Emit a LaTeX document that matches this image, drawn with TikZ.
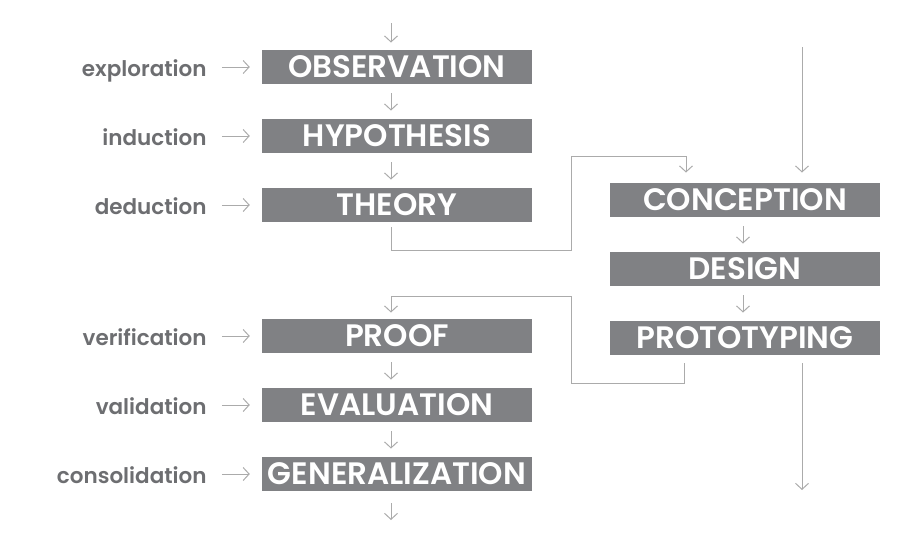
\documentclass[tikz,border=0pt]{standalone}
\usepackage{fontspec}
\setmainfont{Poppins}
\newfontfamily\semifont{Poppins SemiBold}
\usepackage{tikz}
\usetikzlibrary{shapes, arrows.meta}
\definecolor{boxgray}{HTML}{808184}
\definecolor{labelgray}{HTML}{6D6E71}
\definecolor{linegray}{HTML}{ABABAB}
\tikzstyle{stage} = [rectangle, minimum width=270pt, minimum height=34.5pt, inner sep=0pt, text centered, fill=boxgray, text=white, font=\fontsize{31}{31}\semifont, text height=21.5pt, text depth=0pt]
\tikzstyle{method} = [inner sep=0pt, text=labelgray, font=\fontsize{21.5}{21.5}\semifont, text height=18pt, text depth=0pt]
\tikzstyle{flow} = [draw=linegray, line width=1pt, -{Straight Barb[length=6pt, width=13pt]}]

\begin{document}
\begin{tikzpicture}[x=1pt, y=-1pt, node distance=69pt]
\useasboundingbox (0,0) rectangle (907,536);

%==============================================
%Science column
%==============================================
\node (obs) [stage] at (397,67) {OBSERVATION};
\node (hyp) [stage, below of=obs] {HYPOTHESIS};
\node (the) [stage, below of=hyp] {THEORY};
\node (proof) [stage] at (397,336) {PROOF};
\node (eval) [stage, below of=proof] {EVALUATION};
\node (gen) [stage, below of=eval] {GENERALIZATION};

%Methods==============================================
\node (lexp) [method, left=55pt] at (obs.west) {exploration};
\node (lind) [method, left=55pt] at (hyp.west) {induction};
\node (lded) [method, left=55pt] at (the.west) {deduction};
\node (lver) [method, left=55pt] at (proof.west) {verification};
\node (lval) [method, left=55pt] at (eval.west) {validation};
\node (lcon) [method, left=55pt] at (gen.west) {consolidation};

%==============================================
%Design column
%==============================================
\node (conc) [stage] at (745,200) {CONCEPTION};
\node (des) [stage, below of=conc] {DESIGN};
\node (proto) [stage, below of=des] {PROTOTYPING};

\coordinate (in) at (391,23);
\coordinate (out) at (391,520);
\coordinate (rin) at (802,47);
\coordinate (rout) at (802,490);

%==============================================
\draw [flow, shorten >=7pt] (in) -- (in |- obs.north);
\draw [flow, shorten <=9pt, shorten >=8pt] ([xshift=-6pt]obs.south) -- ([xshift=-6pt]hyp.north);
\draw [flow, shorten <=9pt, shorten >=8pt] ([xshift=-6pt]hyp.south) -- ([xshift=-6pt]the.north);
\draw [flow, shorten <=9pt, shorten >=8pt] ([xshift=-6pt]proof.south) -- ([xshift=-6pt]eval.north);
\draw [flow, shorten <=9pt, shorten >=8pt] ([xshift=-6pt]eval.south) -- ([xshift=-6pt]gen.north);
\draw [flow, shorten <=12pt] ([xshift=-6pt]gen.south) -- (out);

\draw [flow, shorten <=15pt, shorten >=12pt] (lexp) -- (obs);
\draw [flow, shorten <=15pt, shorten >=12pt] (lind) -- (hyp);
\draw [flow, shorten <=15pt, shorten >=12pt] (lded) -- (the);
\draw [flow, shorten <=15pt, shorten >=12pt] (lver) -- (proof);
\draw [flow, shorten <=15pt, shorten >=12pt] (lval) -- (eval);
\draw [flow, shorten <=15pt, shorten >=12pt] (lcon) -- (gen);

\draw [flow, shorten >=10pt] (rin) -- (rin |- conc.north);
\draw [flow, shorten <=9pt, shorten >=8pt] ([xshift=-2pt]conc.south) -- ([xshift=-2pt]des.north);
\draw [flow, shorten <=9pt, shorten >=8pt] ([xshift=-2pt]des.south) -- ([xshift=-2pt]proto.north);
\draw [flow, shorten <=8pt] (rin |- proto.south) -- (rout);

\draw [flow] ([xshift=-6pt, yshift=-5pt]the.south) -- (391,250) -- (571,250) -- (571,156) -| ([xshift=-59pt, yshift=10pt]conc.north);
\draw [flow] ([xshift=-61pt, yshift=-8pt]proto.south) -- ++(0,20) -| (571,296) -| ([xshift=-6pt, yshift=6pt]proof.north);
\end{tikzpicture}
\end{document}
